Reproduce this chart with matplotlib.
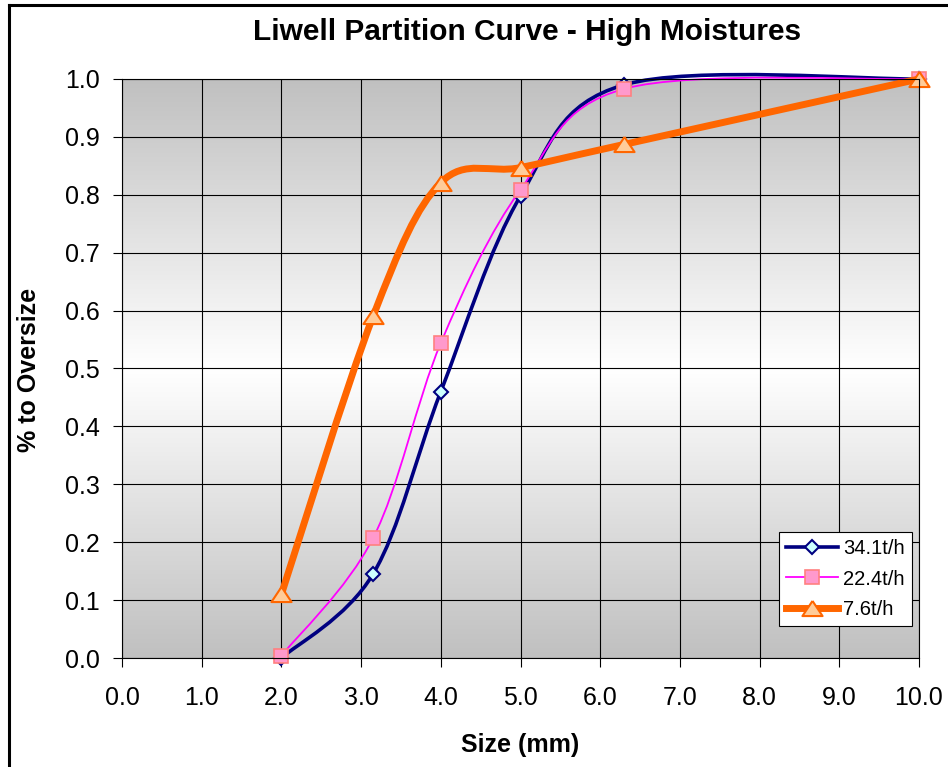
import numpy as np
import matplotlib
matplotlib.use("Agg")
import matplotlib.pyplot as plt
from matplotlib.path import Path
from matplotlib.patches import PathPatch
from matplotlib.lines import Line2D
from matplotlib.colors import LinearSegmentedColormap

plt.rcParams['font.family'] = ['Liberation Sans', 'DejaVu Sans']

# data
size_mm = [2.0, 3.15, 4.0, 5.0, 6.3, 10.0]
rate_34 = [0.0, 0.145, 0.46, 0.798, 0.99, 1.0]
rate_22 = [0.004, 0.207, 0.544, 0.809, 0.983, 1.0]
rate_7 = [0.11, 0.59, 0.821, 0.847, 0.887, 1.0]
labels = ["34.1t/h", "22.4t/h", "7.6t/h"]


def smooth_path(xs, ys):
    # excel style smoothed line: cubic bezier through every point
    pts = np.column_stack([xs, ys])
    n = len(pts)
    verts = [pts[0]]
    codes = [Path.MOVETO]
    for i in range(n - 1):
        p0 = pts[max(i - 1, 0)]
        p1 = pts[i]
        p2 = pts[i + 1]
        p3 = pts[min(i + 2, n - 1)]
        verts += [p1 + (p2 - p0) / 6, p2 - (p3 - p1) / 6, p2]
        codes += [Path.CURVE4] * 3
    return Path(verts, codes)


fig = plt.figure(figsize=(9.48, 7.67), dpi=100)
W, H = 948, 767
ax = fig.add_axes([122 / W, 1 - 658 / H, (919 - 122) / W, (658 - 79) / H])

# gray -> white -> gray background
t = np.linspace(0, 1, 256)
band = 1 - np.abs(2 * t - 1)
bg = LinearSegmentedColormap.from_list("bg", ["#c0c0c0", "#ffffff"])
ax.imshow(band[:, None], extent=[0, 10, 0, 1], aspect='auto', cmap=bg,
          origin='lower', interpolation='bilinear', zorder=0)

ax.set_xlim(0, 10)
ax.set_ylim(0, 1)
ax.set_xticks(np.arange(0, 10.1, 1.0))
ax.set_yticks(np.arange(0, 1.01, 0.1))
ax.set_xticklabels([f"{v:.1f}" for v in np.arange(0, 10.1, 1.0)])
ax.set_yticklabels([f"{v:.1f}" for v in np.arange(0, 1.01, 0.1)])
ax.grid(True, color='black', lw=0.8)
ax.tick_params(axis='both', labelsize=18, length=6.2, width=0.8, color='black')
ax.tick_params(axis='y', pad=10)
ax.tick_params(axis='x', pad=14)
for sp in ax.spines.values():
    sp.set_color('black')
    sp.set_linewidth(0.8)

styles = [
    dict(color='#000080', lw=2.6, marker='D', ms=7.5, mfc='#ccffff', mec='#000080', mew=1.5),
    dict(color='#ff00ff', lw=1.3, marker='s', ms=9.5, mfc='#ff99cc', mec='#ff8080', mew=1.2),
    dict(color='#ff6600', lw=5.0, marker=[(0, 0.75), (-1, -0.75), (1, -0.75), (0, 0.75)],
         ms=14.5, mfc='#ffcc99', mec='#ff6600', mew=1.5),
]
series = [rate_34, rate_22, rate_7]

handles = []
for k, (ys, st) in enumerate(zip(series, styles)):
    z = 2 + k * 0.2
    ax.add_patch(PathPatch(smooth_path(size_mm, ys), fill=False, edgecolor=st['color'],
                           lw=st['lw'], zorder=z, clip_on=False, capstyle='round'))
    ax.plot(size_mm, ys, ls='none', marker=st['marker'], ms=st['ms'], mfc=st['mfc'],
            mec=st['mec'], mew=st['mew'], zorder=z + 0.1, clip_on=False)
    handles.append(Line2D([], [], color=st['color'], lw=st['lw'], marker=st['marker'],
                          ms=st['ms'], mfc=st['mfc'], mec=st['mec'], mew=st['mew']))

leg = ax.legend(handles, labels, loc='upper left', bbox_to_anchor=(779 / W, 1 - 532 / H),
                bbox_transform=fig.transFigure, fontsize=14.5, frameon=True, fancybox=False,
                edgecolor='black', framealpha=1, borderaxespad=0, borderpad=0.35,
                handlelength=2.6, handletextpad=0.25, labelspacing=0.57)
leg.get_frame().set_linewidth(0.8)
leg.set_zorder(5)

fig.text(527 / W, 1 - 32 / H, "Liwell Partition Curve - High Moistures", ha='center',
         va='center', fontsize=21.5, weight='bold')
fig.text(520 / W, 1 - 745 / H, "Size (mm)", ha='center', va='center', fontsize=18,
         weight='bold')
fig.text(29 / W, 1 - 370 / H, "% to Oversize", ha='center', va='center', fontsize=18,
         weight='bold', rotation=90)

# chart area border (cut off on the right and bottom)
fig.add_artist(Line2D([8.5 / W, 8.5 / W], [0, 1 - 5 / H], color='black', lw=2.2))
fig.add_artist(Line2D([8.5 / W, 1], [1 - 5 / H, 1 - 5 / H], color='black', lw=2.2))

fig.savefig("out.png", dpi=100)
